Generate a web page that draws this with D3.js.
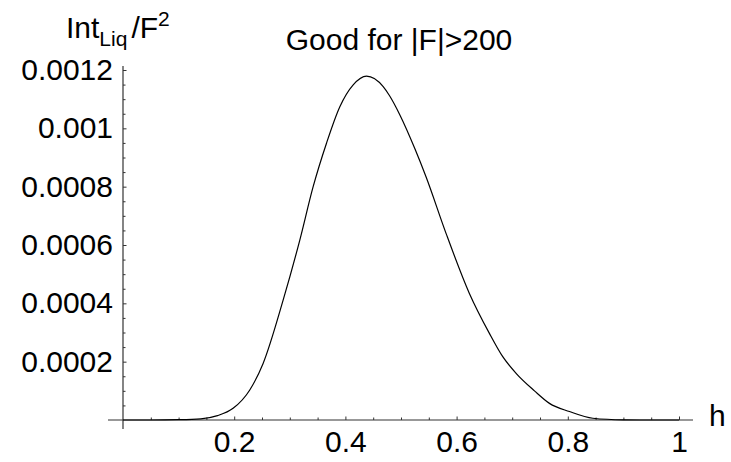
<!DOCTYPE html>
<html>
<head>
<meta charset="utf-8">
<script src="https://cdn.jsdelivr.net/npm/d3@7"></script>
<style>
  html, body { margin: 0; padding: 0; background: #fff; }
  svg { display: block; }
  text { font-family: "Liberation Sans", Arial, Helvetica, sans-serif; fill: #000; }
</style>
</head>
<body>
<svg id="chart" width="731" height="462"></svg>
<script>
// ---- data ----
const hValues = [0, 0.05, 0.1, 0.14, 0.17, 0.198, 0.228, 0.252, 0.288, 0.318, 0.342, 0.366, 0.39, 0.414, 0.438,
                 0.468, 0.48, 0.498, 0.525, 0.545, 0.581, 0.623, 0.659, 0.683, 0.707, 0.74, 0.767, 0.803, 0.845, 0.9, 0.95, 1.0];
const intValues = [0, 0, 0.000001, 0.000004, 0.000015, 0.00004, 0.000103, 0.000194, 0.000411, 0.000617, 0.0008, 0.000949, 0.001074, 0.001149, 0.001179,
                   0.001143, 0.00111, 0.001046, 0.00093, 0.000834, 0.00064, 0.000434, 0.000297, 0.000217, 0.00016, 0.0001, 0.000057, 0.000029, 0.000006, 0.0000005, 0, 0];

const xTickValues = [0.2, 0.4, 0.6, 0.8, 1];
const xTickLabels = ["0.2", "0.4", "0.6", "0.8", "1"];
const xMinorTicks = [0.05, 0.1, 0.15, 0.25, 0.3, 0.35, 0.45, 0.5, 0.55, 0.65, 0.7, 0.75, 0.85, 0.9, 0.95];
const yTickValues = [0.0002, 0.0004, 0.0006, 0.0008, 0.001, 0.0012];
const yTickLabels = ["0.0002", "0.0004", "0.0006", "0.0008", "0.001", "0.0012"];
const yMinorTicks = [0.00005, 0.0001, 0.00015, 0.00025, 0.0003, 0.00035, 0.00045, 0.0005, 0.00055,
                     0.00065, 0.0007, 0.00075, 0.00085, 0.0009, 0.00095, 0.00105, 0.0011, 0.00115];
const titleText = "Good for |F|>200";
const xLabelText = "h";

// ---- layout ----
const svg = d3.select("#chart");
const x = d3.scaleLinear().domain([0, 1]).range([123, 679]);
const y = d3.scaleLinear().domain([0, 0.0012]).range([420, 70]);
const FS = 30;
const axisColor = "#333";

// axis lines
svg.append("line").attr("x1", 108).attr("x2", 693).attr("y1", y(0)).attr("y2", y(0))
  .attr("stroke", axisColor).attr("stroke-width", 1.2);
svg.append("line").attr("x1", x(0)).attr("x2", x(0)).attr("y1", 429).attr("y2", 66)
  .attr("stroke", axisColor).attr("stroke-width", 1.2);

// x axis major
const xAxis = d3.axisBottom(x).tickValues(xTickValues)
  .tickFormat((d, i) => xTickLabels[i]).tickSizeInner(-3.5).tickSizeOuter(0).tickPadding(10.7);
const gx = svg.append("g").attr("transform", `translate(0,${y(0)})`).call(xAxis);
gx.select(".domain").remove();
gx.selectAll(".tick line").attr("stroke", axisColor);
gx.selectAll(".tick text").attr("font-size", FS).attr("font-family", null).attr("fill", "#000");

// x axis minor
const gxm = svg.append("g").attr("transform", `translate(0,${y(0)})`)
  .call(d3.axisBottom(x).tickValues(xMinorTicks).tickFormat("").tickSizeInner(-2.5).tickSizeOuter(0));
gxm.select(".domain").remove();
gxm.selectAll(".tick line").attr("stroke", axisColor);

// y axis major
const yAxis = d3.axisLeft(y).tickValues(yTickValues)
  .tickFormat((d, i) => yTickLabels[i]).tickSizeInner(-3.5).tickSizeOuter(0).tickPadding(10);
const gy = svg.append("g").attr("transform", `translate(${x(0)},0)`).call(yAxis);
gy.select(".domain").remove();
gy.selectAll(".tick line").attr("stroke", axisColor);
gy.selectAll(".tick text").attr("font-size", FS).attr("font-family", null).attr("fill", "#000");

// y axis minor
const gym = svg.append("g").attr("transform", `translate(${x(0)},0)`)
  .call(d3.axisLeft(y).tickValues(yMinorTicks).tickFormat("").tickSizeInner(-2.5).tickSizeOuter(0));
gym.select(".domain").remove();
gym.selectAll(".tick line").attr("stroke", axisColor);

// curve
const pts = hValues.map((h, i) => [h, intValues[i]]);
const line = d3.line().x(d => x(d[0])).y(d => y(d[1])).curve(d3.curveMonotoneX);
svg.append("path").datum(pts).attr("d", line)
  .attr("fill", "none").attr("stroke", "#000").attr("stroke-width", 1.2);

// title
svg.append("text").attr("x", 399).attr("y", 50).attr("text-anchor", "middle")
  .attr("font-size", FS).text(titleText);

// x label
svg.append("text").attr("x", 709).attr("y", 426).attr("font-size", FS).text(xLabelText);

// y label: Int_Liq / F^2
const yl = svg.append("text").attr("x", 66).attr("y", 38).attr("font-size", FS);
yl.append("tspan").text("Int");
yl.append("tspan").attr("font-size", 21).attr("dy", 8).text("Liq");
yl.append("tspan").attr("dy", -8).attr("dx", 4).text("/F");
yl.append("tspan").attr("font-size", 21).attr("dy", -12).text("2");
</script>
</body>
</html>
